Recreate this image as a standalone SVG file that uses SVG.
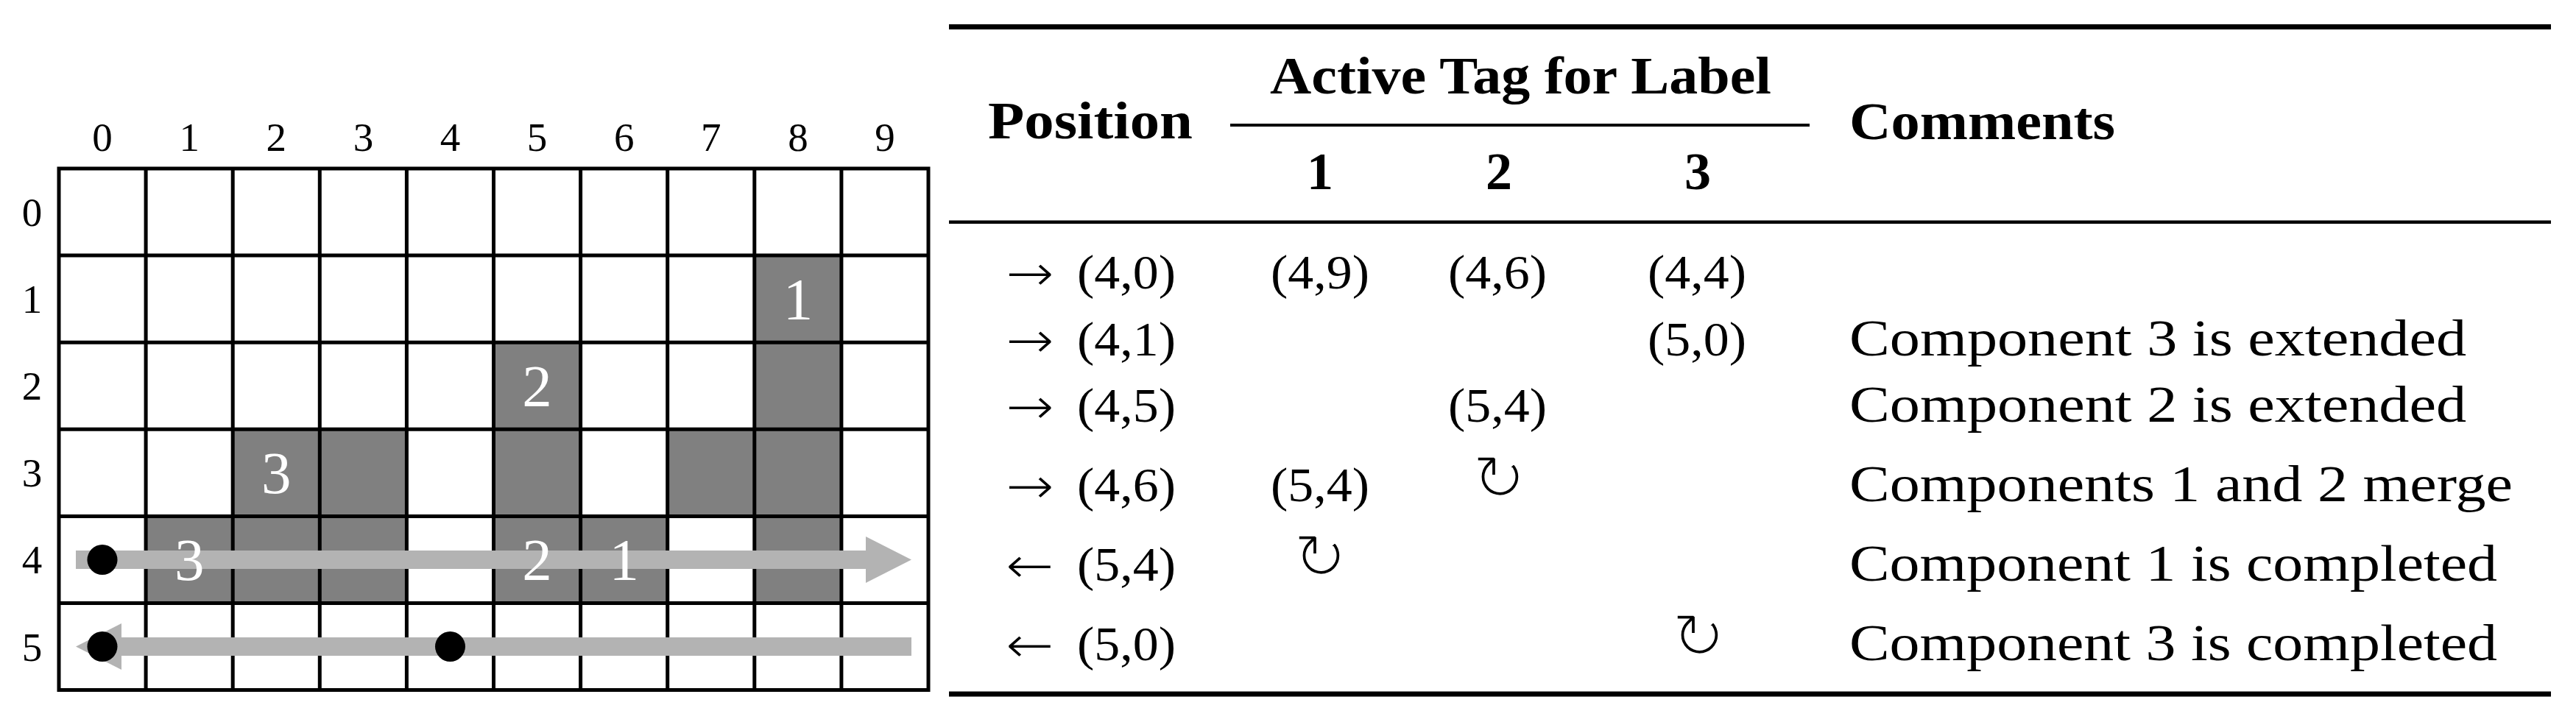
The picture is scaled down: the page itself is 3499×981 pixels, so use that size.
<svg xmlns="http://www.w3.org/2000/svg" width="3499" height="981" viewBox="0 0 3499 981">
<style>
.lab{font-family:"Liberation Serif","Times New Roman",serif;font-size:55px;fill:#000;text-anchor:middle}
.cl{font-family:"Liberation Serif","Times New Roman",serif;font-size:81px;fill:#fff;text-anchor:middle}
.g{fill:#808080}
.ln{stroke:#000;stroke-width:5;fill:none;stroke-linecap:square}
.arr{fill:#b3b3b3}
.dot{fill:#000}
.rule{fill:#000}
.hd{font-family:"Liberation Serif","Times New Roman",serif;font-weight:bold;font-size:72px;fill:#000}
.hdc{font-family:"Liberation Serif","Times New Roman",serif;font-weight:bold;font-size:72px;fill:#000;text-anchor:middle}
.tx{font-family:"Liberation Serif","Times New Roman",serif;font-size:66px;fill:#000}
.ar{font-family:"DejaVu Sans",sans-serif;font-size:72px;fill:#000;stroke:#fff;stroke-width:2.5}
.cm{font-family:"Liberation Serif","Times New Roman",serif;font-size:70px;fill:#000}
.sym{font-family:"DejaVu Sans",sans-serif;font-size:88px;fill:#000;stroke:#fff;stroke-width:3.5;text-anchor:middle}
</style>
<rect width="3499" height="981" fill="#fff"/>
<g id="grid">
<g id="grid-cells">
<rect class="g" x="1024.8" y="347.1" width="118.1" height="118.1"/>
<rect class="g" x="670.5" y="465.2" width="118.1" height="118.1"/>
<rect class="g" x="1024.8" y="465.2" width="118.1" height="118.1"/>
<rect class="g" x="316.2" y="583.3" width="118.1" height="118.1"/>
<rect class="g" x="434.3" y="583.3" width="118.1" height="118.1"/>
<rect class="g" x="670.5" y="583.3" width="118.1" height="118.1"/>
<rect class="g" x="906.7" y="583.3" width="118.1" height="118.1"/>
<rect class="g" x="1024.8" y="583.3" width="118.1" height="118.1"/>
<rect class="g" x="198.1" y="701.4" width="118.1" height="118.1"/>
<rect class="g" x="316.2" y="701.4" width="118.1" height="118.1"/>
<rect class="g" x="434.3" y="701.4" width="118.1" height="118.1"/>
<rect class="g" x="670.5" y="701.4" width="118.1" height="118.1"/>
<rect class="g" x="788.6" y="701.4" width="118.1" height="118.1"/>
<rect class="g" x="1024.8" y="701.4" width="118.1" height="118.1"/>
</g>
<path id="grid-lines" class="ln" d="M80,229V937.6M198.1,229V937.6M316.2,229V937.6M434.3,229V937.6M552.4,229V937.6M670.5,229V937.6M788.6,229V937.6M906.7,229V937.6M1024.8,229V937.6M1142.9,229V937.6M1261,229V937.6M80,229H1261M80,347.1H1261M80,465.2H1261M80,583.3H1261M80,701.4H1261M80,819.5H1261M80,937.6H1261"/>
<g id="col-labels">
<text class="lab" x="139" y="205">0</text>
<text class="lab" x="257.2" y="205">1</text>
<text class="lab" x="375.3" y="205">2</text>
<text class="lab" x="493.4" y="205">3</text>
<text class="lab" x="611.5" y="205">4</text>
<text class="lab" x="729.6" y="205">5</text>
<text class="lab" x="847.7" y="205">6</text>
<text class="lab" x="965.8" y="205">7</text>
<text class="lab" x="1083.9" y="205">8</text>
<text class="lab" x="1202" y="205">9</text>
</g>
<g id="row-labels">
<text class="lab" x="43.6" y="307">0</text>
<text class="lab" x="43.6" y="425.1">1</text>
<text class="lab" x="43.6" y="543.2">2</text>
<text class="lab" x="43.6" y="661.3">3</text>
<text class="lab" x="43.6" y="779.4">4</text>
<text class="lab" x="43.6" y="897.5">5</text>
</g>
</g>
<g id="connectors">
<g id="scan-row-4">
<rect class="arr" x="103" y="748" width="1074" height="25"/>
<polygon class="arr" points="1176,729 1238,760.5 1176,792"/>
</g>
<g id="scan-row-5">
<rect class="arr" x="164" y="866" width="1074" height="25"/>
<polygon class="arr" points="165,847 103,878.5 165,910"/>
</g>
</g>
<g id="dots">
<circle class="dot" cx="139" cy="760.5" r="20.5"/>
<circle class="dot" cx="139" cy="878.5" r="20.5"/>
<circle class="dot" cx="611.5" cy="878.5" r="20.5"/>
</g>
<g id="cell-labels">
<text class="cl" x="1083.9" y="434">1</text>
<text class="cl" x="729.6" y="552">2</text>
<text class="cl" x="375.3" y="670">3</text>
<text class="cl" x="257.2" y="788">3</text>
<text class="cl" x="729.6" y="788">2</text>
<text class="cl" x="847.7" y="788">1</text>
</g>
<g id="table">
<g id="rules">
<rect class="rule" x="1289" y="33" width="2176" height="7"/>
<rect class="rule" x="1671" y="168" width="787" height="4"/>
<rect class="rule" x="1289" y="299.5" width="2176" height="4.5"/>
<rect class="rule" x="1289" y="939.5" width="2176" height="7"/>
</g>
<g id="table-header">
<text class="hd" x="1342" y="188" textLength="278" lengthAdjust="spacingAndGlyphs">Position</text>
<text class="hd" x="1725" y="127" textLength="681" lengthAdjust="spacingAndGlyphs">Active Tag for Label</text>
<text class="hdc" x="1793" y="257">1</text>
<text class="hdc" x="2036" y="257">2</text>
<text class="hdc" x="2306" y="257">3</text>
<text class="hd" x="2512" y="189" textLength="361" lengthAdjust="spacingAndGlyphs">Comments</text>
</g>
<g id="table-row-1">
<text class="ar" x="1365" y="396" textLength="68" lengthAdjust="spacingAndGlyphs">→</text>
<text class="tx" x="1463" y="392" textLength="134" lengthAdjust="spacingAndGlyphs">(4,0)</text>
<text class="tx" x="1726" y="392" textLength="134" lengthAdjust="spacingAndGlyphs">(4,9)</text>
<text class="tx" x="1967" y="392" textLength="134" lengthAdjust="spacingAndGlyphs">(4,6)</text>
<text class="tx" x="2238" y="392" textLength="134" lengthAdjust="spacingAndGlyphs">(4,4)</text>
</g>
<g id="table-row-2">
<text class="ar" x="1365" y="487" textLength="68" lengthAdjust="spacingAndGlyphs">→</text>
<text class="tx" x="1463" y="483" textLength="134" lengthAdjust="spacingAndGlyphs">(4,1)</text>
<text class="tx" x="2238" y="483" textLength="134" lengthAdjust="spacingAndGlyphs">(5,0)</text>
<text class="cm" x="2512" y="483" textLength="838" lengthAdjust="spacingAndGlyphs">Component 3 is extended</text>
</g>
<g id="table-row-3">
<text class="ar" x="1365" y="577" textLength="68" lengthAdjust="spacingAndGlyphs">→</text>
<text class="tx" x="1463" y="573" textLength="134" lengthAdjust="spacingAndGlyphs">(4,5)</text>
<text class="tx" x="1967" y="573" textLength="134" lengthAdjust="spacingAndGlyphs">(5,4)</text>
<text class="cm" x="2512" y="573" textLength="838" lengthAdjust="spacingAndGlyphs">Component 2 is extended</text>
</g>
<g id="table-row-4">
<text class="ar" x="1365" y="685" textLength="68" lengthAdjust="spacingAndGlyphs">→</text>
<text class="tx" x="1463" y="681" textLength="134" lengthAdjust="spacingAndGlyphs">(4,6)</text>
<text class="tx" x="1726" y="681" textLength="134" lengthAdjust="spacingAndGlyphs">(5,4)</text>
<text class="sym" x="2036" y="680">↻</text>
<text class="cm" x="2512" y="681" textLength="901" lengthAdjust="spacingAndGlyphs">Components 1 and 2 merge</text>
</g>
<g id="table-row-5">
<text class="ar" x="1365" y="793" textLength="68" lengthAdjust="spacingAndGlyphs">←</text>
<text class="tx" x="1463" y="789" textLength="134" lengthAdjust="spacingAndGlyphs">(5,4)</text>
<text class="sym" x="1793" y="787">↻</text>
<text class="cm" x="2512" y="789" textLength="880" lengthAdjust="spacingAndGlyphs">Component 1 is completed</text>
</g>
<g id="table-row-6">
<text class="ar" x="1365" y="901" textLength="68" lengthAdjust="spacingAndGlyphs">←</text>
<text class="tx" x="1463" y="897" textLength="134" lengthAdjust="spacingAndGlyphs">(5,0)</text>
<text class="sym" x="2307" y="895">↻</text>
<text class="cm" x="2512" y="897" textLength="880" lengthAdjust="spacingAndGlyphs">Component 3 is completed</text>
</g>
</g>
</svg>
